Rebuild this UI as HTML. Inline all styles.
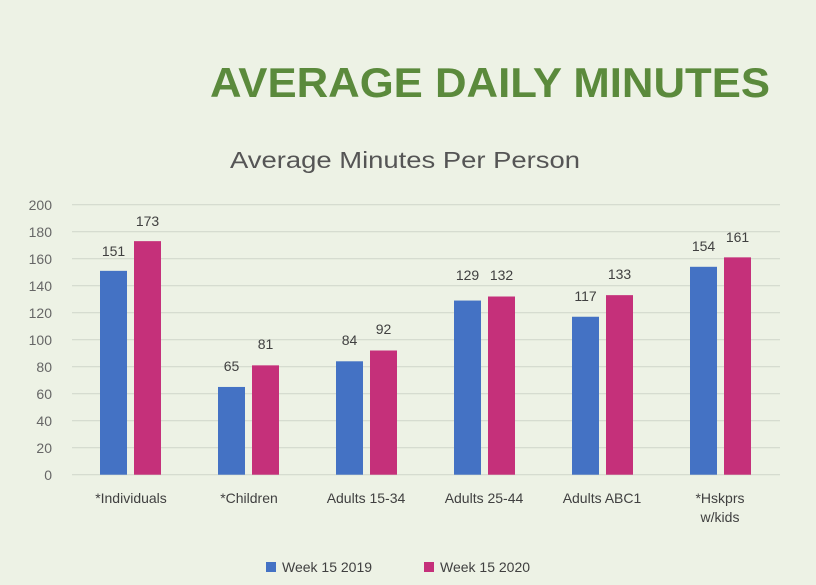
<html><head><style>body{margin:0;background:#edf2e5}</style></head><body>
<svg width="816" height="585" xmlns="http://www.w3.org/2000/svg" font-family="Liberation Sans, sans-serif">
<rect width="816" height="585" fill="#edf2e5"/>
<text x="210" y="97" font-size="42" font-weight="bold" fill="#5b8a3c" textLength="560" lengthAdjust="spacingAndGlyphs">AVERAGE DAILY MINUTES</text>
<text x="230" y="168" font-size="23" fill="#555" textLength="350" lengthAdjust="spacingAndGlyphs">Average Minutes Per Person</text>
<g stroke="#d3d8cc" stroke-width="1.2">
<line x1="72" x2="780" y1="204.7" y2="204.7"/><line x1="72" x2="780" y1="231.7" y2="231.7"/><line x1="72" x2="780" y1="258.7" y2="258.7"/><line x1="72" x2="780" y1="285.7" y2="285.7"/><line x1="72" x2="780" y1="312.7" y2="312.7"/><line x1="72" x2="780" y1="339.7" y2="339.7"/><line x1="72" x2="780" y1="366.7" y2="366.7"/><line x1="72" x2="780" y1="393.7" y2="393.7"/><line x1="72" x2="780" y1="420.7" y2="420.7"/><line x1="72" x2="780" y1="447.7" y2="447.7"/><line x1="72" x2="780" y1="474.7" y2="474.7"/>
</g>
<g font-size="14" fill="#666" text-anchor="end">
<text x="52" y="210">200</text><text x="52" y="237">180</text><text x="52" y="264">160</text><text x="52" y="291">140</text><text x="52" y="318">120</text><text x="52" y="345">100</text><text x="52" y="372">80</text><text x="52" y="399">60</text><text x="52" y="426">40</text><text x="52" y="453">20</text><text x="52" y="480">0</text>
</g>
<g fill="#4472c4">
<rect x="100" y="270.85" width="27" height="203.85"/>
<rect x="218" y="386.95" width="27" height="87.75"/>
<rect x="336" y="361.3" width="27" height="113.4"/>
<rect x="454" y="300.55" width="27" height="174.15"/>
<rect x="572" y="316.75" width="27" height="157.95"/>
<rect x="690" y="266.8" width="27" height="207.9"/>
</g>
<g fill="#c5307a">
<rect x="134" y="241.15" width="27" height="233.55"/>
<rect x="252" y="365.35" width="27" height="109.35"/>
<rect x="370" y="350.5" width="27" height="124.2"/>
<rect x="488" y="296.5" width="27" height="178.2"/>
<rect x="606" y="295.15" width="27" height="179.55"/>
<rect x="724" y="257.35" width="27" height="217.35"/>
</g>
<g font-size="14" fill="#404040" text-anchor="middle">
<text x="113.5" y="256">151</text><text x="147.5" y="226">173</text>
<text x="231.5" y="371">65</text><text x="265.5" y="349">81</text>
<text x="349.5" y="345">84</text><text x="383.5" y="334">92</text>
<text x="467.5" y="280">129</text><text x="501.5" y="280">132</text>
<text x="585.5" y="301">117</text><text x="619.5" y="279">133</text>
<text x="703.5" y="251">154</text><text x="737.5" y="242">161</text>
</g>
<g font-size="14" fill="#404040" text-anchor="middle">
<text x="131" y="503">*Individuals</text>
<text x="249" y="503">*Children</text>
<text x="366" y="503">Adults 15-34</text>
<text x="484" y="503">Adults 25-44</text>
<text x="602" y="503">Adults ABC1</text>
<text x="720" y="503">*Hskprs</text>
<text x="720" y="522">w/kids</text>
</g>
<rect x="266" y="562" width="10" height="10" fill="#4472c4"/>
<text x="282" y="572" font-size="14" fill="#404040">Week 15 2019</text>
<rect x="424" y="562" width="10" height="10" fill="#c5307a"/>
<text x="440" y="572" font-size="14" fill="#404040">Week 15 2020</text>
</svg>
</body></html>
